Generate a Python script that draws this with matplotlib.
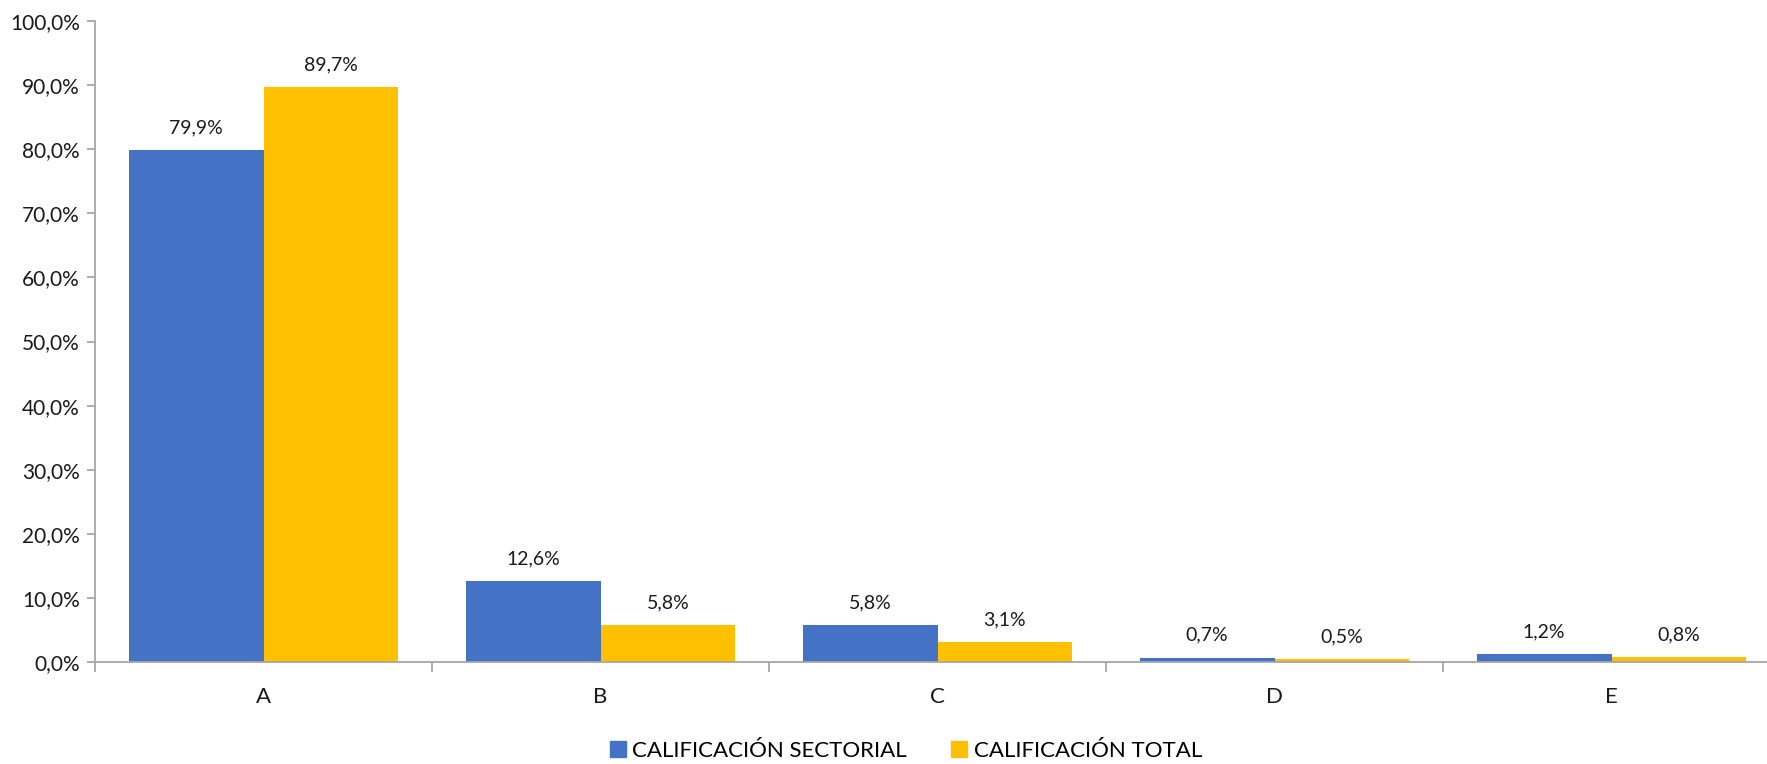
import matplotlib
matplotlib.use("Agg")
import matplotlib.pyplot as plt
from matplotlib.patches import Patch
import numpy as np

plt.rcParams["font.family"] = ["Lato", "DejaVu Sans"]

categories = ["A", "B", "C", "D", "E"]
sectorial = [79.9, 12.6, 5.8, 0.7, 1.2]
total = [89.7, 5.8, 3.1, 0.5, 0.8]
series_names = ["CALIFICACIÓN SECTORIAL", "CALIFICACIÓN TOTAL"]

BLUE = "#4472C4"
YELLOW = "#FFC000"
AXIS = "#A6A6A6"

W, H, DPI = 1767, 764, 100
fig = plt.figure(figsize=(W / DPI, H / DPI), dpi=DPI)
# axes spans past the right edge, like the cropped original
left, right, bottom, top = 95, 1780, 662, 21
ax = fig.add_axes([left / W, 1 - bottom / H, (right - left) / W, (bottom - top) / H])

x = np.arange(len(categories))
bw = 0.4
b1 = ax.bar(x - bw / 2, sectorial, bw, color=BLUE, zorder=2)
b2 = ax.bar(x + bw / 2, total, bw, color=YELLOW, zorder=2)

for bars, vals in ((b1, sectorial), (b2, total)):
    for bar, v in zip(bars, vals):
        ax.annotate(f"{v:.1f}%".replace(".", ","),
                    (bar.get_x() + bar.get_width() / 2, v),
                    xytext=(0, 10), textcoords="offset points",
                    ha="center", va="bottom", fontsize=14, color="#1a1a1a")

ax.set_xlim(-0.5, len(categories) - 0.5)
ax.set_ylim(0, 100)
yt = np.arange(0, 101, 10)
ax.set_yticks(yt)
ax.set_yticklabels([f"{v:.1f}%".replace(".", ",") for v in yt], fontsize=15, color="#1a1a1a")

# category boundary ticks on x, labels centred
ax.set_xticks(np.arange(len(categories) + 1) - 0.5)
ax.set_xticklabels([])
ax.set_xticks(x, minor=True)
ax.set_xticklabels(categories, minor=True, fontsize=16, color="#1a1a1a")
ax.tick_params(axis="x", which="major", length=7, color=AXIS, width=1.3)
ax.tick_params(axis="x", which="minor", length=0, pad=18)
ax.tick_params(axis="y", length=6, color=AXIS, width=1.3, pad=5)

for s in ("top", "right"):
    ax.spines[s].set_visible(False)
for s in ("left", "bottom"):
    ax.spines[s].set_color(AXIS)
    ax.spines[s].set_linewidth(1.3)

handles = [Patch(color=BLUE, label=series_names[0]),
           Patch(color=YELLOW, label=series_names[1])]
fig.legend(handles=handles, loc="center", bbox_to_anchor=(906 / W, 1 - 751 / H),
           ncol=2, frameon=False, fontsize=16, handlelength=0.7, handleheight=0.7,
           handletextpad=0.3, columnspacing=2.0)

fig.savefig("out.png", dpi=DPI)
